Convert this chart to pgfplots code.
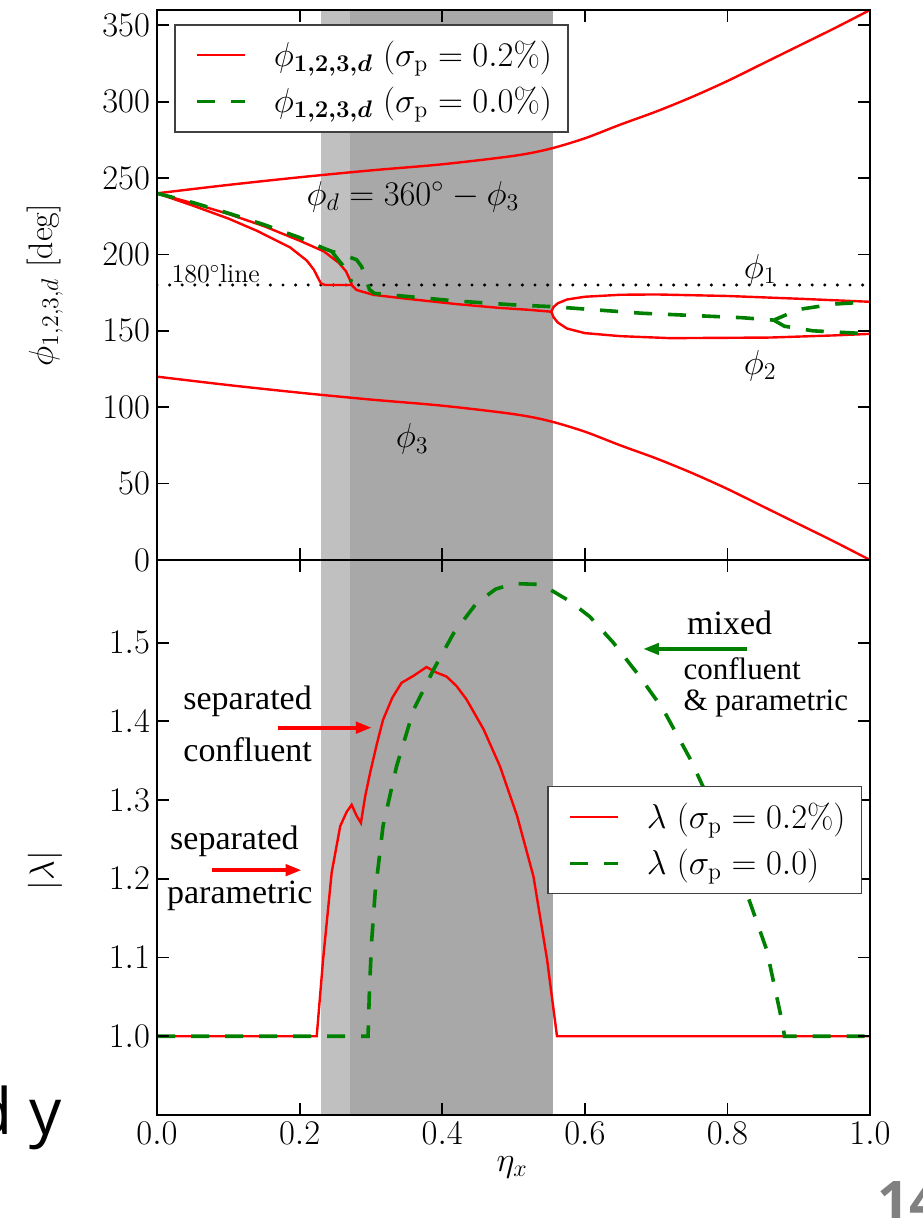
\documentclass[border=0pt]{standalone}
\usepackage{pgfplots}
\pgfplotsset{compat=1.18}
\usepackage{fontspec}
\usepackage{bm}
\usetikzlibrary{arrows.meta}
\newfontfamily\annfont{Liberation Serif}
\newfontfamily\slidefont{Open Sans}

\definecolor{mplred}{rgb}{1,0,0}
\definecolor{mplgreen}{rgb}{0,0.5,0}
\definecolor{shadelight}{RGB}{192,192,192}
\definecolor{shadedark}{RGB}{168,168,168}

\pgfplotsset{
  common/.style={
    scale only axis, width=356.5pt, xmin=0, xmax=1,
    tick align=inside, major tick length=6pt,
    axis line style={line width=1.1pt},
    every tick/.style={black, line width=0.9pt},
    tick label style={font=\fontsize{17}{20}\selectfont},
    label style={font=\fontsize{17}{20}\selectfont},
    axis on top,
    legend cell align=left,
    legend image code/.code={\path[draw=none] (-5pt,0pt) -- (36.5pt,0pt);\draw[##1] (0pt,0pt) -- (24pt,0pt);},
    legend style={draw=black!75, line width=0.8pt,
      font=\fontsize{17}{21}\selectfont,
      inner xsep=6pt, inner ysep=6pt, row sep=5pt},
  },
  redline/.style={color=mplred, line width=1.2pt},
  greendash/.style={color=mplgreen, line width=1.8pt, dash pattern=on 9pt off 8pt},
}
\tikzset{
  ann/.style={font=\annfont\fontsize{17}{20}\selectfont, anchor=west, inner sep=0pt},
  annsmall/.style={font=\annfont\fontsize{15.5}{18}\selectfont, anchor=west, inner sep=0pt},
}

\begin{document}
\begin{tikzpicture}

% ---------------- phase panel ----------------
\begin{axis}[common, name=top, at={(0pt,277.5pt)}, height=275pt,
  ymin=0, ymax=360, ytick={0,50,100,150,200,250,300,350},
  xtick={0,0.2,0.4,0.6,0.8,1}, xticklabels={},
  ylabel={$\phi_{1,2,3,d}$ [deg]},
  ylabel style={at={(axis description cs:-0.157,0.5)}, anchor=center},
  legend style={at={(0.0238,0.9745)}, anchor=north west}]

% shaded eta ranges
\addplot[draw=none, fill=shadelight, forget plot] coordinates {(0.2295,-20) (0.2707,-20) (0.2707,400) (0.2295,400)} -- cycle;
\addplot[draw=none, fill=shadedark, forget plot] coordinates {(0.2707,-20) (0.555,-20) (0.555,400) (0.2707,400)} -- cycle;

% 180 degree reference
\addplot[black, line width=1.7pt, line cap=round, dash pattern=on 0pt off 6.3pt, forget plot] coordinates {(0,180) (1,180)};

% sigma_p = 0.2 %
\addplot[redline] coordinates {
  (0,240) (0.05,232) (0.1,223.5) (0.14,215.5) (0.187,204.5) (0.21,196)
  (0.22,190) (0.226,184.5) (0.23,181) (0.236,180) (0.273,180)
  (0.28,176.7) (0.304,173.5) (0.35,171) (0.42,167.5) (0.48,165) (0.52,163.8) (0.553,162.5)
  (0.556,165.5) (0.562,168) (0.575,170.5) (0.6,172.3) (0.65,173.6) (0.7,173.8)
  (0.8,172.8) (0.9,171) (1.0,169)};
\addlegendentry{$\phi_{\bm{1,2,3,d}}$ ($\sigma_\mathrm{p} = 0.2\%$)}
\addplot[redline, forget plot] coordinates {
  (0,240) (0.05,233.5) (0.1,226.5) (0.15,218.5) (0.2,209) (0.234,202)
  (0.255,194.5) (0.265,189) (0.27,184) (0.273,180.5)};
\addplot[redline, forget plot] coordinates {
  (0.553,162.5) (0.556,159) (0.562,155.5) (0.575,151.5) (0.6,148.5) (0.65,146.5)
  (0.72,145.2) (0.86,145.6) (0.95,147) (1.0,148)};
% phi_d
\addplot[redline, smooth, forget plot] coordinates {
  (0,240) (0.1,245.5) (0.2,250.5) (0.3,255) (0.4,259) (0.5,264.5) (0.55,269)
  (0.6,276) (0.65,285) (0.7,293.5) (0.75,303) (0.8,313.5) (0.85,325) (0.9,336.5)
  (0.95,348) (1.0,360)};
% phi_3
\addplot[redline, smooth, forget plot] coordinates {
  (0,120) (0.1,114.5) (0.2,109.5) (0.3,105) (0.4,101) (0.5,95.5) (0.55,91)
  (0.6,84) (0.65,75) (0.7,66.5) (0.75,57) (0.8,46.5) (0.85,35) (0.9,23.5)
  (0.95,12) (1.0,0)};

% sigma_p = 0
\addplot[greendash] coordinates {
  (0,240) (0.05,234) (0.1,227) (0.15,219.5) (0.2,211) (0.234,204) (0.245,202)
  (0.26,200) (0.28,196.5) (0.287,192) (0.293,184) (0.298,177) (0.305,174.5)
  (0.35,172.5) (0.42,169.5) (0.5,167) (0.555,165.8) (0.68,161.5) (0.82,158.6) (0.865,157)
  (0.9,164) (0.95,167.5) (1.0,169)};
\addlegendentry{$\phi_{\bm{1,2,3,d}}$ ($\sigma_\mathrm{p} = 0.0\%$)}
\addplot[greendash, forget plot] coordinates {
  (0.245,202) (0.255,196) (0.265,190.5) (0.273,182)};
\addplot[greendash, forget plot] coordinates {
  (0.865,157) (0.88,153) (0.92,150) (1.0,148)};

\node[font=\fontsize{17}{20}\selectfont] at (axis cs:0.359,238) {$\phi_d = 360^\circ - \phi_3$};
\node[font=\fontsize{13}{15}\selectfont, anchor=base west, inner sep=0pt] at (axis cs:0.02,181.8) {180$^\circ$line};
\node[font=\fontsize{17}{20}\selectfont] at (axis cs:0.846,190) {$\phi_1$};
\node[font=\fontsize{17}{20}\selectfont] at (axis cs:0.846,127) {$\phi_2$};
\node[font=\fontsize{17}{20}\selectfont] at (axis cs:0.358,79) {$\phi_3$};
\end{axis}

% ---------------- eigenvalue panel ----------------
\begin{axis}[common, name=bot, at={(0pt,0pt)}, height=277.5pt,
  ymin=0.9, ymax=1.605, ytick={1.0,1.1,1.2,1.3,1.4,1.5},
  xtick={0,0.2,0.4,0.6,0.8,1},
  x tick label style={/pgf/number format/fixed, /pgf/number format/fixed zerofill, /pgf/number format/precision=1},
  y tick label style={/pgf/number format/fixed, /pgf/number format/fixed zerofill, /pgf/number format/precision=1},
  xlabel={$\eta_x$},
  xlabel style={at={(axis description cs:0.498,-0.095)}, anchor=center},
  ylabel={$|\lambda|$},
  ylabel style={at={(axis description cs:-0.157,0.44)}, anchor=center},
  legend style={at={(0.547,0.593)}, anchor=north west}]

\addplot[draw=none, fill=shadelight, forget plot] coordinates {(0.2295,0.8) (0.2707,0.8) (0.2707,1.7) (0.2295,1.7)} -- cycle;
\addplot[draw=none, fill=shadedark, forget plot] coordinates {(0.2707,0.8) (0.555,0.8) (0.555,1.7) (0.2707,1.7)} -- cycle;

\addplot[redline] coordinates {
  (0,1) (0.224,1) (0.233,1.098) (0.245,1.208) (0.257,1.267) (0.266,1.285) (0.273,1.294)
  (0.28,1.28) (0.286,1.271) (0.292,1.305) (0.299,1.335) (0.308,1.37) (0.317,1.402)
  (0.33,1.43) (0.343,1.449) (0.36,1.458) (0.378,1.469) (0.392,1.462) (0.406,1.457)
  (0.42,1.445) (0.434,1.428) (0.458,1.39) (0.481,1.343) (0.505,1.28) (0.528,1.203)
  (0.547,1.098) (0.561,1) (1,1)};
\addlegendentry{$\lambda$ ($\sigma_\mathrm{p} = 0.2\%$)}
\addplot[greendash] coordinates {
  (0,1) (0.296,1) (0.298,1.06) (0.301,1.12) (0.306,1.183) (0.317,1.267) (0.336,1.343)
  (0.36,1.415) (0.388,1.466) (0.416,1.512) (0.448,1.55) (0.475,1.568) (0.5,1.575)
  (0.537,1.574) (0.556,1.565) (0.58,1.552) (0.607,1.533) (0.64,1.5) (0.677,1.457)
  (0.71,1.415) (0.748,1.352) (0.79,1.27) (0.827,1.182) (0.855,1.11) (0.878,1.013)
  (0.88,1) (1,1)};
\addlegendentry{$\lambda$ ($\sigma_\mathrm{p} = 0.0$)}

\node[ann] at (axis cs:0.0365,1.425) {separated};
\node[ann] at (axis cs:0.0365,1.364) {confluent};
\node[ann] at (axis cs:0.018,1.248) {separated};
\node[ann] at (axis cs:0.0136,1.178) {parametric};
\node[ann] at (axis cs:0.743,1.525) {mixed};
\node[annsmall] at (axis cs:0.738,1.467) {confluent};
\node[annsmall] at (axis cs:0.738,1.423) {\& parametric};
\draw[mplred, line width=2pt, -{Triangle[length=8pt,width=5.5pt]}] (axis cs:0.17,1.392) -- (axis cs:0.3015,1.392);
\draw[mplred, line width=2pt, -{Triangle[length=8pt,width=5.5pt]}] (axis cs:0.0767,1.211) -- (axis cs:0.203,1.211);
\draw[mplgreen, line width=2pt, -{Triangle[length=8pt,width=5.5pt]}] (axis cs:0.8275,1.492) -- (axis cs:0.6815,1.492);
\end{axis}

% slide text around the figure
\node[anchor=base east, inner sep=0pt, font=\slidefont\fontsize{32}{36}\selectfont] at (-47.5pt,-10pt) {d y};
\node[anchor=north west, inner sep=0pt, text=black!50, font=\slidefont\bfseries\fontsize{28}{32}\selectfont] at (359.9pt,-33.3pt) {14};

\pgfresetboundingbox
\useasboundingbox (-78.5pt,-51.5pt) rectangle (382.5pt,557.5pt);
\end{tikzpicture}
\end{document}
